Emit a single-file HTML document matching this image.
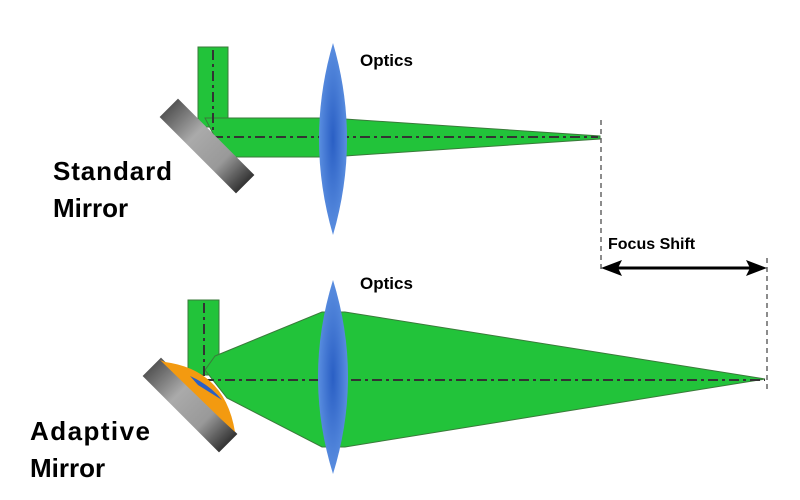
<!DOCTYPE html>
<html><head><style>
body{margin:0;background:#fff;width:800px;height:500px;overflow:hidden}
svg{display:block}
text{font-family:"Liberation Sans",sans-serif;font-weight:bold;fill:#000}
</style></head><body>
<svg width="800" height="500" viewBox="0 0 800 500">
<defs>
<linearGradient id="g" x1="0" y1="0" x2="1" y2="0">
<stop offset="0" stop-color="#555"/><stop offset="0.35" stop-color="#aaa"/><stop offset="0.7" stop-color="#999"/><stop offset="1" stop-color="#333"/>
</linearGradient>
<radialGradient id="b" cx="0.5" cy="0.5" r="0.5">
<stop offset="0" stop-color="#2a5fc4"/><stop offset="1" stop-color="#5a8ee0"/>
</radialGradient>
</defs>
<!-- TOP -->
<g stroke="#3a7a3a" stroke-width="1" fill="#22c33a">
<rect x="198" y="47" width="30" height="80"/>
<polygon points="205,118 330,118 600,136 600,139 330,157 225,157"/>
</g>
<line x1="213" y1="50" x2="213" y2="137" stroke="#333" stroke-width="2" stroke-dasharray="10,4,3,4"/>
<line x1="213" y1="137" x2="598" y2="137" stroke="#333" stroke-width="2" stroke-dasharray="10,4,3,4"/>
<g transform="translate(207,146) rotate(45)">
<rect x="-54" y="-13" width="108" height="26" fill="url(#g)"/>
</g>
<path d="M333,43 Q361,139 333,235 Q305,139 333,43 Z" fill="url(#b)"/>
<!-- BOTTOM -->
<g stroke="#3a7a3a" stroke-width="1" fill="#22c33a">
<rect x="188" y="300" width="31" height="75"/>
<polygon points="215,356 322,312 345,312 765,379 345,447 322,447 227,398 205,370"/>
</g>
<line x1="204" y1="303" x2="204" y2="380" stroke="#333" stroke-width="2" stroke-dasharray="10,4,3,4"/>
<line x1="204" y1="380" x2="765" y2="380" stroke="#333" stroke-width="2" stroke-dasharray="10,4,3,4"/>
<g transform="translate(190,405) rotate(45)">
<rect x="-54" y="-13" width="108" height="26" fill="url(#g)"/>
</g>
<path d="M165,362 Q225,370 235,432 L222,420 L160,360 Z" fill="#f39a10"/>
<path d="M190,376 Q210,385 222,400 L198,385 Z" fill="#2a5fc4"/>
<path d="M333,280 Q363,377 333,474 Q303,377 333,280 Z" fill="url(#b)"/>
<!-- focus shift -->
<line x1="601" y1="120" x2="601" y2="270" stroke="#666" stroke-width="1.5" stroke-dasharray="5,4"/>
<line x1="767" y1="258" x2="767" y2="390" stroke="#666" stroke-width="1.5" stroke-dasharray="5,4"/>
<line x1="612" y1="268" x2="756" y2="268" stroke="#000" stroke-width="3"/>
<polygon points="601,268 622,260 618,268 622,276" fill="#000"/>
<polygon points="767,268 746,260 750,268 746,276" fill="#000"/>
<text x="608" y="249" font-size="16">Focus Shift</text>
<text x="360" y="66" font-size="17">Optics</text>
<text x="360" y="289" font-size="17">Optics</text>
<text x="53" y="180" font-size="26" textLength="119">Standard</text>
<text x="53" y="217" font-size="26">Mirror</text>
<text x="30" y="440" font-size="26" textLength="120">Adaptive</text>
<text x="30" y="477" font-size="26">Mirror</text>
</svg>
</body></html>
